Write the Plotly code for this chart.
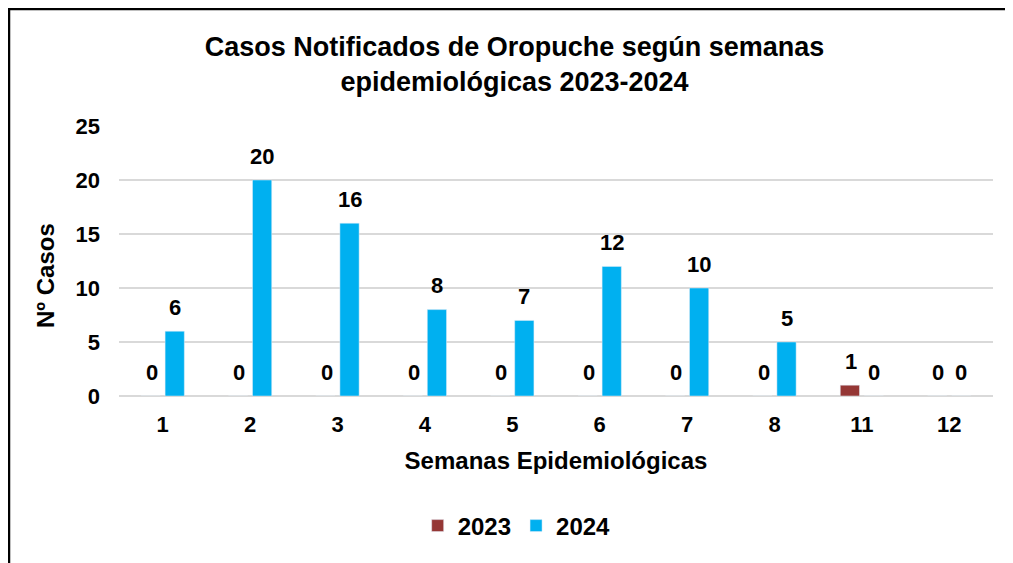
import plotly.graph_objects as go

semanas = ["1", "2", "3", "4", "5", "6", "7", "8", "11", "12"]
casos_2023 = [0, 0, 0, 0, 0, 0, 0, 0, 1, 0]
casos_2024 = [6, 20, 16, 8, 7, 12, 10, 5, 0, 0]

FONT = "Liberation Sans, Arial, sans-serif"
C2023 = "#953735"
C2024 = "#00B0F0"

# figure-space layout (page has 8px body margin)
L, R_EDGE, T, B_EDGE = 111, 985, 118, 388
W, H = 1013, 563
PW, PH = R_EDGE - L, B_EDGE - T

fig = go.Figure()
fig.add_trace(go.Bar(x=semanas, y=casos_2023, name="<b>2023</b>", marker_color=C2023))
fig.add_trace(go.Bar(x=semanas, y=casos_2024, name="<b>2024</b>", marker_color=C2024))

# data labels (x given as category index)
for vals, shift in ((casos_2023, -11), (casos_2024, 12)):
    for i, v in enumerate(vals):
        fig.add_annotation(x=i, y=v, xref="x", yref="y", text=f"<b>{v}</b>", showarrow=False,
                           xshift=shift, yshift=24, yanchor="middle",
                           font=dict(family=FONT, size=22, color="black"))

# y-axis title
fig.add_annotation(x=(37 - L) / PW, y=(B_EDGE - 268) / PH, xref="paper", yref="paper",
                   text="<b>Nº Casos</b>", textangle=-90, showarrow=False,
                   xanchor="center", yanchor="middle",
                   font=dict(family=FONT, size=24, color="black"))

fig.update_layout(
    width=W, height=H,
    paper_bgcolor="white", plot_bgcolor="white",
    barmode="group", bargap=0.45, bargroupgap=0.2,
    margin=dict(l=L, r=W - R_EDGE, t=T, b=H - B_EDGE),
    font=dict(family=FONT, size=22, color="black"),
    title=dict(
        text="<b>Casos Notificados de Oropuche según semanas<br>epidemiológicas 2023-2024</b>",
        x=0.5, xanchor="center", y=1 - 48 / H, yanchor="middle",
        font=dict(family=FONT, size=27, color="black"),
    ),
    xaxis=dict(
        type="category", showgrid=False, showline=False, ticks="",
        range=[-0.5, len(semanas) - 0.5],
        tickfont=dict(family=FONT, size=22, color="black"),
        tickprefix="<b>", ticksuffix="</b>", ticklabelstandoff=13,
        title=dict(text="<b>Semanas Epidemiológicas</b>", standoff=16,
                   font=dict(family=FONT, size=24, color="black")),
    ),
    yaxis=dict(
        range=[0, 25], dtick=5, showgrid=True, gridcolor="#d9d9d9", gridwidth=2,
        zeroline=True, zerolinecolor="#d9d9d9", zerolinewidth=2,
        showline=False, ticks="", ticklabelstandoff=18,
        tickfont=dict(family=FONT, size=22, color="black"),
        tickprefix="<b>", ticksuffix="</b>",
    ),
    legend=dict(
        orientation="h", x=0.455, xanchor="center", y=(B_EDGE - 518) / PH, yanchor="middle",
        font=dict(family=FONT, size=24, color="black"),
        itemwidth=30, traceorder="normal",
    ),
    showlegend=True,
)

fig.add_shape(type="rect", xref="paper", yref="paper",
              x0=(1 - L) / PW, x1=1.2,
              y0=-1.0, y1=(B_EDGE - 1) / PH,
              line=dict(color="black", width=2.5), fillcolor="rgba(0,0,0,0)", layer="above")

fig.write_html("out.html")
